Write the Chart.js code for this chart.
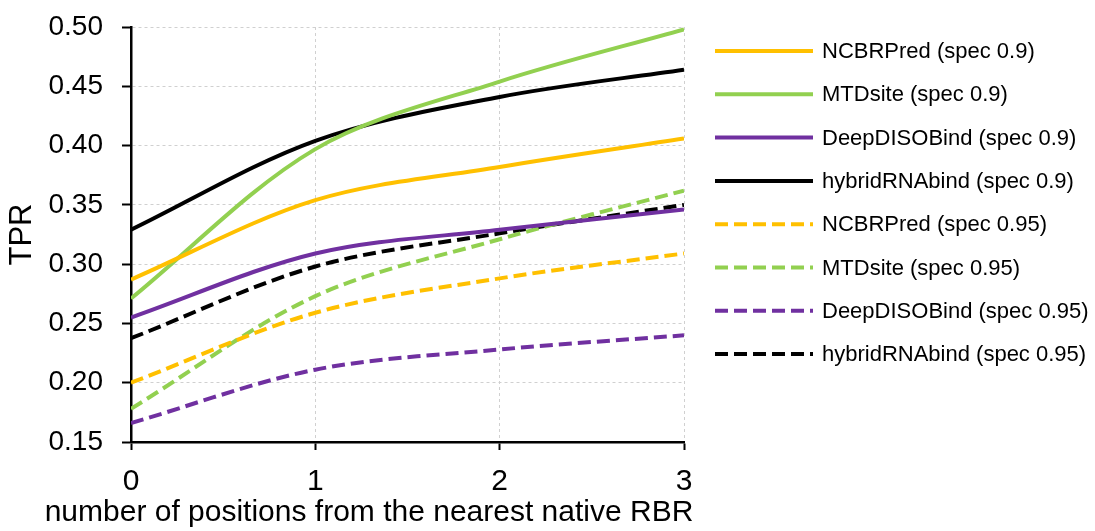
<!DOCTYPE html>
<html>
<head>
<meta charset="utf-8">
<script src="https://cdn.jsdelivr.net/npm/chart.js@4/dist/chart.umd.min.js"></script>
<style>
  html, body { margin: 0; padding: 0; background: #fff; }
  #wrap { width: 1095px; height: 531px; position: relative; }
</style>
</head>
<body>
<div id="wrap"><canvas id="tprChart"></canvas></div>
<script>
/* TPR vs. distance from the nearest native RBR */

const FONT = "Arial, 'Liberation Sans', sans-serif";

const positions = [0, 1, 2, 3];
const yTicks    = [0.15, 0.20, 0.25, 0.30, 0.35, 0.40, 0.45, 0.50];

const seriesNames = [
  "NCBRPred (spec 0.9)",
  "MTDsite (spec 0.9)",
  "DeepDISOBind (spec 0.9)",
  "hybridRNAbind (spec 0.9)",
  "NCBRPred (spec 0.95)",
  "MTDsite (spec 0.95)",
  "DeepDISOBind (spec 0.95)",
  "hybridRNAbind (spec 0.95)",
];

const ncbr09    = [0.287, 0.354, 0.382, 0.406];
const mtd09     = [0.271, 0.397, 0.454, 0.498];
const deep09    = [0.255, 0.309, 0.329, 0.346];
const hybrid09  = [0.329, 0.404, 0.441, 0.464];
const ncbr095   = [0.200, 0.259, 0.288, 0.309];
const mtd095    = [0.178, 0.273, 0.321, 0.362];
const deep095   = [0.166, 0.211, 0.228, 0.240];
const hybrid095 = [0.2375, 0.298, 0.326, 0.350];

const seriesValues = [ncbr09, mtd09, deep09, hybrid09, ncbr095, mtd095, deep095, hybrid095];
const colors = ["#FFC000", "#92D050", "#7030A0", "#000000"];
const DASH   = [13, 6];

const datasets = seriesValues.map((vals, i) => ({
  label: seriesNames[i],
  data: vals.map((v, j) => ({ x: positions[j], y: v })),
  borderColor: colors[i % 4],
  borderWidth: 4,
  borderDash: i >= 4 ? DASH : [],
  borderCapStyle: "butt",
  pointRadius: 0,
  tension: 0.33,
  fill: false,
}));

// legend drawn on the right, one row per dataset
const sideLegend = {
  id: "sideLegend",
  afterDraw(chart) {
    const ctx = chart.ctx;
    ctx.save();
    ctx.font = "22px " + FONT;
    ctx.textBaseline = "middle";
    ctx.textAlign = "left";
    chart.data.datasets.forEach((ds, i) => {
      const y = 51 + i * 43.3;
      ctx.strokeStyle = ds.borderColor;
      ctx.lineWidth = ds.borderWidth;
      ctx.setLineDash(ds.borderDash);
      ctx.beginPath();
      ctx.moveTo(715, y);
      ctx.lineTo(813, y);
      ctx.stroke();
      ctx.setLineDash([]);
      ctx.fillStyle = "#000";
      ctx.fillText(ds.label, 822, y + 1);
    });
    // x axis title (Excel centres it on the whole plot box)
    ctx.font = "30px " + FONT;
    ctx.textAlign = "center";
    ctx.fillText("number of positions from the nearest native RBR", 369, 513);
    ctx.restore();
  },
};

new Chart(document.getElementById("tprChart"), {
  type: "line",
  data: { datasets },
  plugins: [sideLegend],
  options: {
    responsive: true,
    maintainAspectRatio: false,
    animation: false,
    layout: { padding: { top: 27, right: 411, bottom: 0, left: 0 } },
    plugins: { legend: { display: false }, tooltip: { enabled: false } },
    scales: {
      x: {
        type: "linear",
        min: 0,
        max: 3,
        afterFit: s => { s.height = 89; s.paddingLeft = 0; s.paddingRight = 0; },
        ticks: { stepSize: 1, padding: 14, color: "#000", font: { family: FONT, size: 30 } },
        grid: {
          color: "#d0d0d0", lineWidth: 1,
          tickColor: "#000", tickWidth: 2, tickLength: 8, tickBorderDash: [],
        },
        border: { color: "#000", width: 2.5, dash: [3, 3] },
      },
      y: {
        min: 0.15,
        max: 0.50,
        afterFit: s => { s.width = 131; s.paddingTop = 0; s.paddingBottom = 0; },
        afterBuildTicks: s => { s.ticks = yTicks.map(v => ({ value: v })); },
        ticks: {
          padding: 19, color: "#000",
          font: { family: FONT, size: 28 },
          callback: v => v.toFixed(2),
        },
        grid: {
          color: "#d0d0d0", lineWidth: 1,
          tickColor: "#000", tickWidth: 2, tickLength: 9, tickBorderDash: [],
        },
        border: { color: "#000", width: 2.5, dash: [3, 3] },
        title: {
          display: true, text: "TPR", color: "#000",
          font: { family: FONT, size: 31 },
          padding: { top: 4, bottom: 0 },
        },
      },
    },
  },
});
</script>
</body>
</html>
